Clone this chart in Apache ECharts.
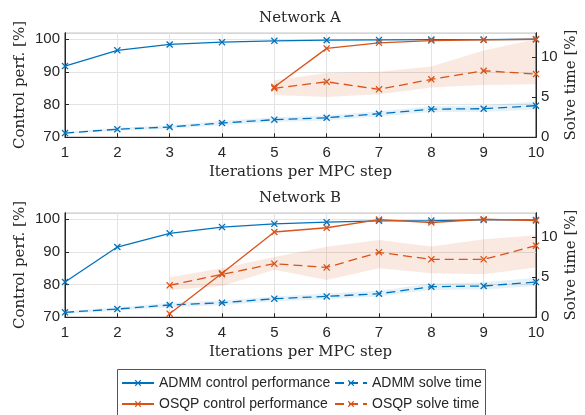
<!DOCTYPE html>
<html><head><meta charset="utf-8">
<script src="https://cdn.jsdelivr.net/npm/echarts@6/dist/echarts.min.js"></script>
<style>html,body{margin:0;padding:0;background:#fff}#c{width:585px;height:415px}</style>
</head><body><div id="c"></div>
<script>
const iterations = [1,2,3,4,5,6,7,8,9,10];
const leftTicks = [70,80,90,100];
const rightTicks = [0,5,10];

// Network A
const A_osqpStart = 5;
const A_admmCtrl = [91.8, 96.6, 98.4, 99.1, 99.5, 99.7, 99.8, 99.9, 99.9, 100];
const A_osqpCtrl = [85.4, 97.2, 98.9, 99.6, 99.8, 100];
const A_admmTime = [0.53, 1.0, 1.28, 1.78, 2.19, 2.43, 2.93, 3.5, 3.55, 3.93];
const A_admmTimeLo = [0.4, 0.8, 1.05, 1.5, 1.9, 2.1, 2.6, 3.15, 3.15, 3.45];
const A_admmTimeHi = [0.65, 1.2, 1.5, 2.05, 2.5, 2.75, 3.25, 3.85, 3.95, 4.45];
const A_osqpTime = [6.09, 6.9, 5.96, 7.2, 8.27, 7.86];
const A_osqpTimeLo = [5.25, 5.0, 5.35, 6.2, 6.5, 6.6];
const A_osqpTimeHi = [7.1, 8.0, 8.15, 8.8, 10.8, 12.2];

// Network B
const B_osqpStart = 3;
const B_admmCtrl = [80.8, 91.5, 95.7, 97.6, 98.6, 99.1, 99.5, 99.6, 99.8, 99.8];
const B_osqpCtrl = [71.1, 83.5, 96.1, 97.4, 99.9, 99.0, 100, 99.6];
const B_admmTime = [0.62, 1.03, 1.53, 1.81, 2.31, 2.6, 2.93, 3.8, 3.89, 4.38];
const B_admmTimeLo = [0.45, 0.8, 1.25, 1.5, 2.0, 2.25, 2.6, 3.4, 3.45, 3.9];
const B_admmTimeHi = [0.75, 1.25, 1.8, 2.1, 2.6, 2.95, 3.3, 4.2, 4.35, 4.9];
const B_osqpTime = [3.97, 5.34, 6.66, 6.2, 8.07, 7.2, 7.2, 8.9];
const B_osqpTimeLo = [3.4, 3.9, 5.9, 4.63, 6.1, 5.47, 5.35, 6.2];
const B_osqpTimeHi = [4.97, 6.1, 7.5, 8.77, 9.6, 8.8, 9.7, 10.2];

const titles = ['Network A', 'Network B'];
const names = ['ADMM control performance','ADMM solve time','OSQP control performance','OSQP solve time'];

const BLUE = '#0072BD', ORANGE = '#D95319', INK = '#262626';
const SANS = 'Liberation Sans', SERIF = 'DejaVu Serif';
const XSYM = 'path://M0,1.3 L1.3,0 L5,3.7 L8.7,0 L10,1.3 L6.3,5 L10,8.7 L8.7,10 L5,6.3 L1.3,10 L0,8.7 L3.7,5 Z';

function pairs(vals, start){ return vals.map((v,i)=>[iterations[start-1+i], v]); }

const grids = [{top:32.7}, {top:212.7}].map(g=>({left:65, width:471, top:g.top, height:104.6,
  outerBoundsMode:'none', containLabel:false,
  show:true, borderColor:INK, borderWidth:1, backgroundColor:'transparent'}));

const xAxes = [0,1].map(i=>({type:'value', gridIndex:i, min:1, max:10, interval:1,
  name:'Iterations per MPC step', nameLocation:'middle', nameGap:27, nameMoveOverlap:false,
  nameTextStyle:{fontFamily:SERIF, fontSize:15, color:INK},
  axisLine:{lineStyle:{color:INK}}, axisTick:{inside:true, length:4, lineStyle:{color:INK}},
  axisLabel:{fontFamily:SANS, fontSize:15, color:INK, margin:8},
  splitLine:{show:true, lineStyle:{color:'#e3e3e3'}}}));

const yAxes = [];
[0,1].forEach(i=>{
  yAxes.push({type:'value', gridIndex:i, position:'left', min:70, max:102, interval:10,
    name:'Control perf. [%]', nameLocation:'middle', nameRotate:90, nameGap:37, nameMoveOverlap:false,
    nameTextStyle:{fontFamily:SERIF, fontSize:15, color:INK},
    axisLine:{show:true, lineStyle:{color:INK}}, axisTick:{show:true, inside:true, length:4, lineStyle:{color:INK}},
    axisLabel:{fontFamily:SANS, fontSize:15, color:INK, margin:5, showMaxLabel:false,
      formatter:v=>leftTicks.includes(v)?String(v):''},
    splitLine:{show:true, lineStyle:{color:'#e3e3e3'}}});
  yAxes.push({type:'value', gridIndex:i, position:'right', min:0, max:13, interval:5,
    name:'Solve time [%]', nameLocation:'middle', nameRotate:90, nameGap:28, nameMoveOverlap:false,
    nameTextStyle:{fontFamily:SERIF, fontSize:15, color:INK},
    axisLine:{show:true, lineStyle:{color:INK}}, axisTick:{show:true, inside:true, length:4, lineStyle:{color:INK}},
    axisLabel:{fontFamily:SANS, fontSize:15, color:INK, margin:5, showMaxLabel:false,
      formatter:v=>rightTicks.includes(v)?String(v):''},
    splitLine:{show:false}});
});

function band(gi, lo, hi, start, color){
  const rows = lo.map((l,i)=>[iterations[start-1+i], l, hi[i]]);
  return {type:'custom', xAxisIndex:gi, yAxisIndex:gi*2+1, data:rows, silent:true, z:1,
    encode:{x:0, y:[1,2]},
    renderItem:function(params, api){
      if (params.dataIndex !== 0) return null;
      const top = rows.map(r=>api.coord([r[0], r[2]]));
      const bot = rows.map(r=>api.coord([r[0], r[1]])).reverse();
      return {type:'polygon', shape:{points: top.concat(bot)}, style:{fill:color}};
    }};
}
function line(gi, name, vals, start, color, dashed, right){
  return {type:'line', name:name, xAxisIndex:gi, yAxisIndex:gi*2+(right?1:0), data:pairs(vals,start),
    symbol:XSYM, symbolSize:7, showSymbol:true,
    lineStyle:{color:color, width:1.3, type: dashed?[9,5]:'solid'},
    itemStyle:{color:color}, z:3};
}

const BLUE_BAND = 'rgba(0,114,189,0.10)', ORANGE_BAND = 'rgba(217,83,25,0.13)';
const series = [
  band(0, A_admmTimeLo, A_admmTimeHi, 1, BLUE_BAND),
  band(0, A_osqpTimeLo, A_osqpTimeHi, A_osqpStart, ORANGE_BAND),
  band(1, B_admmTimeLo, B_admmTimeHi, 1, BLUE_BAND),
  band(1, B_osqpTimeLo, B_osqpTimeHi, B_osqpStart, ORANGE_BAND),
  line(0, names[0], A_admmCtrl, 1, BLUE, false, false),
  line(0, names[1], A_admmTime, 1, BLUE, true, true),
  line(0, names[2], A_osqpCtrl, A_osqpStart, ORANGE, false, false),
  line(0, names[3], A_osqpTime, A_osqpStart, ORANGE, true, true),
  line(1, names[0], B_admmCtrl, 1, BLUE, false, false),
  line(1, names[1], B_admmTime, 1, BLUE, true, true),
  line(1, names[2], B_osqpCtrl, B_osqpStart, ORANGE, false, false),
  line(1, names[3], B_osqpTime, B_osqpStart, ORANGE, true, true)
];

const legendCommon = {orient:'vertical', top:376, itemWidth:32, itemHeight:8, itemGap:7, padding:0,
  selectedMode:false, textStyle:{fontFamily:SANS, fontSize:14, color:INK}};

const option = {
  animation:false,
  backgroundColor:'#fff',
  title: titles.map((t,i)=>({text:t, left:300, textAlign:'center', top: i===0?11:191, padding:0,
    textStyle:{fontFamily:SERIF, fontSize:15, fontWeight:'normal', color:INK}})),
  grid: grids,
  xAxis: xAxes,
  yAxis: yAxes,
  legend: [
    Object.assign({left:121, data:[names[0], names[2]]}, legendCommon),
    Object.assign({left:334, data:[names[1], names[3]]}, legendCommon)
  ],
  graphic: [{type:'rect', shape:{x:117.5, y:369.5, width:368, height:60},
    style:{fill:'#fff', stroke:'#555', lineWidth:1}, z:0}],
  series: series
};
echarts.init(document.getElementById('c')).setOption(option);
</script></body></html>
